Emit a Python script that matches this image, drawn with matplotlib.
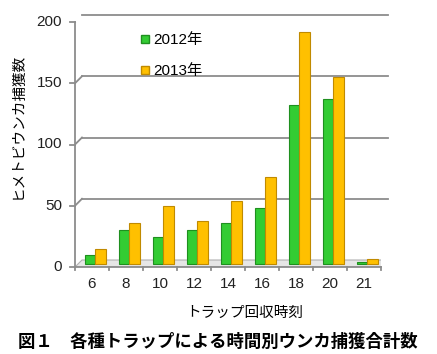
import numpy as np
import matplotlib
matplotlib.use("Agg")
import matplotlib.pyplot as plt
from matplotlib import transforms
from matplotlib.patches import Polygon
from matplotlib.lines import Line2D

plt.rcParams['font.family'] = ['Liberation Sans', 'Noto Sans CJK JP']

# dati
orari = ["6", "8", "10", "12", "14", "16", "18", "20", "21"]
catture_2012 = [7, 27, 22, 27, 33, 45, 129, 134, 1]
catture_2013 = [12, 33, 47, 35, 51, 71, 189, 152, 4]
tick_y = [0, 50, 100, 150, 200]

verde = "#33cc33"
verde_bordo = "#1f8f1f"
giallo = "#ffc000"
giallo_bordo = "#c08a00"
grigio = "#8c8c8c"

fig = plt.figure(figsize=(4.37, 3.54), dpi=100)
ax = fig.add_axes([75 / 437, 87 / 354, 306 / 437, 245 / 354])
ax.set_xlim(-0.5, len(orari) - 0.5)
ax.set_ylim(0, 200)
ax.axis("off")

# profondità finta 3D (in pixel)
prof = 7
back = ax.transData + transforms.ScaledTranslation(prof / 100, prof / 100, fig.dpi_scale_trans)
mezzo = ax.transData + transforms.ScaledTranslation(prof / 200, prof / 200, fig.dpi_scale_trans)

# griglia sul muro di fondo
for v in tick_y[1:]:
    ax.plot([-0.5, len(orari) - 0.5], [v, v], color=grigio, lw=1.3, transform=back, clip_on=False, zorder=1)
    p0 = ax.transData.transform((-0.5, v))
    p1 = back.transform((-0.5, v))
    ax.add_line(Line2D([p0[0], p1[0]], [p0[1], p1[1]], color=grigio, lw=1.3,
                       transform=transforms.IdentityTransform(), zorder=1))

# pavimento
f0 = ax.transData.transform((-0.5, 0))
f1 = ax.transData.transform((len(orari) - 0.5, 0))
b1 = back.transform((len(orari) - 0.5, 0))
b0 = back.transform((-0.5, 0))
pav = Polygon([f0, f1, b1, b0], closed=True, facecolor="#e6e6e6", edgecolor="#b0b0b0", lw=0.8,
              transform=transforms.IdentityTransform(), zorder=2)
ax.add_patch(pav)

# asse y frontale
ax.plot([-0.5, -0.5], [0, 200], color=grigio, lw=1.3, clip_on=False, zorder=3)
dx = 5 / 306 * len(orari)
for v in tick_y:
    ax.plot([-0.5 - dx, -0.5], [v, v], color=grigio, lw=1.3, clip_on=False, zorder=3)
    ax.text(-0.5 - 2.6 * dx, v, str(v), ha="right", va="center", fontsize=11, color="#222222")

# asse x frontale
ax.plot([-0.5, len(orari) - 0.5], [0, 0], color=grigio, lw=1.3, clip_on=False, zorder=5)
for i in range(len(orari) + 1):
    ax.plot([i - 0.5, i - 0.5], [0, -2.5], color=grigio, lw=1.3, clip_on=False, zorder=5)
for i, h in enumerate(orari):
    ax.text(i, -8, h, ha="center", va="top", fontsize=11, color="#222222")

# barre
x = np.arange(len(orari))
w = 0.31
ax.bar(x - 0.16, catture_2012, width=w, color=verde, edgecolor=verde_bordo, lw=0.8,
       transform=mezzo, zorder=4, clip_on=False)
ax.bar(x + 0.15, catture_2013, width=w, color=giallo, edgecolor=giallo_bordo, lw=0.8,
       transform=mezzo, zorder=4, clip_on=False)

# legenda
maniglie = [Line2D([], [], marker="s", ls="None", markersize=6, markerfacecolor=verde, markeredgecolor=verde_bordo),
            Line2D([], [], marker="s", ls="None", markersize=6, markerfacecolor=giallo, markeredgecolor=giallo_bordo)]
ax.legend(maniglie, ["2012年", "2013年"], loc="upper left", bbox_to_anchor=(0.17, 1.01),
          frameon=False, fontsize=11, handlelength=0.6, handletextpad=0.2, labelspacing=1.1)

fig.text(18 / 437, 1 - 126 / 354, "ヒメトビウンカ捕獲数", rotation=90, ha="center", va="center", fontsize=10.5)
fig.text(245 / 437, 1 - 313 / 354, "トラップ回収時刻", ha="center", va="center", fontsize=10.5)
fig.text(18 / 437, 1 - 341 / 354, "図１　各種トラップによる時間別ウンカ捕獲合計数", ha="left", va="center",
         fontsize=12.5, fontweight="bold")

fig.savefig("out.png", dpi=100)
